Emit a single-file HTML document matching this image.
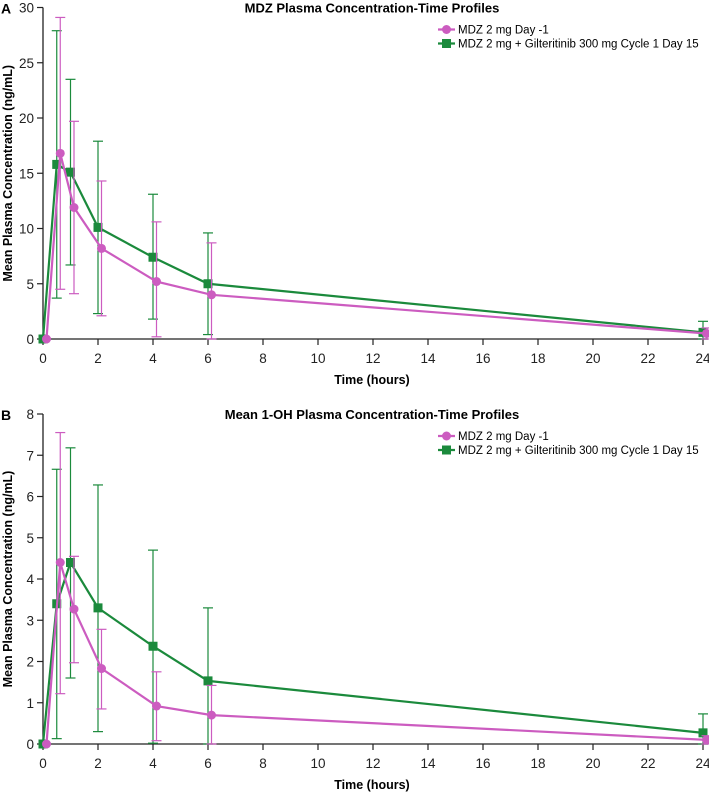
<!DOCTYPE html>
<html><head><meta charset="utf-8"><style>
body{margin:0;background:#fff}
svg{display:block;font-family:"Liberation Sans",Arial,sans-serif}
</style></head><body>
<svg id="chart" width="709" height="795"></svg>
<script>
const times=[0,0.5,1,2,4,6,24];
const aPink=[0,16.8,11.9,8.2,5.2,4.0,0.5];
const aPinkHi=[0,29.1,19.7,14.3,10.6,8.7,1.0];
const aPinkLo=[0,4.5,4.1,2.1,0.2,0,0];
const aGreen=[0,15.8,15.1,10.1,7.4,5.0,0.6];
const aGreenHi=[0,27.9,23.5,17.9,13.1,9.6,1.6];
const aGreenLo=[0,3.7,6.7,2.3,1.8,0.4,0];
const bPink=[0,4.4,3.27,1.83,0.92,0.7,0.1];
const bPinkHi=[0,7.55,4.55,2.78,1.75,1.42,0.2];
const bPinkLo=[0,1.22,1.97,0.85,0.08,0,0];
const bGreen=[0,3.4,4.4,3.3,2.37,1.53,0.27];
const bGreenHi=[0,6.66,7.18,6.28,4.7,3.3,0.73];
const bGreenLo=[0,0.13,1.6,0.3,0.02,0,0];
const xTicks=[0,2,4,6,8,10,12,14,16,18,20,22,24];
const aYTicks=[0,5,10,15,20,25,30];
const bYTicks=[0,1,2,3,4,5,6,7,8];
const PINK="#cc5cc0",GREEN="#1b8a3c";
const svg=document.getElementById('chart');
const NS="http://www.w3.org/2000/svg";
function mk(tag,attrs,parent,text){const e=document.createElementNS(NS,tag);for(const k in attrs)e.setAttribute(k,attrs[k]);if(text!==undefined)e.textContent=text;(parent||svg).appendChild(e);return e;}
function panel(p){
  const g=mk('g',{});
  
  
  const x=t=>43+t*27.5;
  const y=v=>p.y0-(v/p.ymax)*(p.y0-p.yTop);
  const ax=mk('g',{},g);
  
  
  mk('line',{x1:43,y1:p.y0,x2:708,y2:p.y0,stroke:'#222','stroke-width':1.3},ax);
  mk('line',{x1:43,y1:p.yTop,x2:43,y2:p.y0,stroke:'#222','stroke-width':1.3},ax);
  xTicks.forEach(t=>{mk('line',{x1:x(t),y1:p.y0,x2:x(t),y2:p.y0+6,stroke:'#222','stroke-width':1.2},ax);
    const l=mk('text',{x:x(t),y:p.y0+24,'text-anchor':'middle','font-size':13.5,fill:'#222'},ax,t);
    });
  p.ticks.forEach(v=>{mk('line',{x1:37,y1:y(v),x2:43,y2:y(v),stroke:'#222','stroke-width':1.2},ax);
    const l=mk('text',{x:34,y:y(v)+5,'text-anchor':'end','font-size':13.5,fill:'#222'},ax,v);
    });
  const xt=mk('text',{x:372,y:p.y0+45,'text-anchor':'middle','font-size':12.5,'font-weight':'bold'},g,'Time (hours)');
  
  const cy=(p.y0+p.yTop)/2;
  const yt=mk('text',{x:12,y:cy,transform:`rotate(-90 12 ${cy})`,'text-anchor':'middle','font-size':12.5,'font-weight':'bold'},g,'Mean Plasma Concentration (ng/mL)');
  
  const tt=mk('text',{x:372,y:p.yTop+5,'text-anchor':'middle','font-size':13,'font-weight':'bold'},g,p.title);
  
  const lt=mk('text',{x:1,y:p.yTop+6,'font-size':14,'font-weight':'bold'},g,p.letter);
  
  const series=[{v:p.g,hi:p.gh,lo:p.gl,c:GREEN,off:0,sq:true,n:'series-gilteritinib'},{v:p.p,hi:p.ph,lo:p.pl,c:PINK,off:3.5,sq:false,n:'series-day-minus-1'}];
  series.forEach(s=>{
    const sg=mk('g',{},g);
    
    times.forEach((t,i)=>{const xx=x(t)+s.off;if(s.hi[i]>s.v[i]||s.lo[i]<s.v[i]){
      mk('line',{x1:xx,y1:y(s.hi[i]),x2:xx,y2:y(s.lo[i]),stroke:s.c,'stroke-width':1.2},sg);
      mk('line',{x1:xx-5,y1:y(s.hi[i]),x2:xx+5,y2:y(s.hi[i]),stroke:s.c,'stroke-width':1.2},sg);
      mk('line',{x1:xx-5,y1:y(s.lo[i]),x2:xx+5,y2:y(s.lo[i]),stroke:s.c,'stroke-width':1.2},sg);}});
    mk('polyline',{points:times.map((t,i)=>`${x(t)+s.off},${y(s.v[i])}`).join(' '),fill:'none',stroke:s.c,'stroke-width':2.2},sg);
    times.forEach((t,i)=>{const xx=x(t)+s.off,yy=y(s.v[i]);let m;
      if(s.sq)m=mk('rect',{x:xx-4.5,y:yy-4.5,width:9,height:9,fill:s.c},sg);
      else m=mk('circle',{cx:xx,cy:yy,r:4.5,fill:s.c},sg);
      });
  });
  const lg=mk('g',{},g);
  
  const ly=p.yTop+22;
  mk('line',{x1:438,y1:ly,x2:455,y2:ly,stroke:PINK,'stroke-width':2.2},lg);
  mk('circle',{cx:446.5,cy:ly,r:4.5,fill:PINK},lg);
  const e1=mk('text',{x:458,y:ly+4,'font-size':11.5},lg,'MDZ 2 mg Day -1');
  
  mk('line',{x1:438,y1:ly+14,x2:455,y2:ly+14,stroke:GREEN,'stroke-width':2.2},lg);
  mk('rect',{x:442,y:ly+9.5,width:9,height:9,fill:GREEN},lg);
  const e2=mk('text',{x:458,y:ly+18,'font-size':11.5},lg,'MDZ 2 mg + Gilteritinib 300 mg Cycle 1 Day 15');
  
}
panel({name:'panel-a-mdz',letter:'A',title:'MDZ Plasma Concentration-Time Profiles',y0:339,yTop:7.5,ymax:30,ticks:aYTicks,p:aPink,ph:aPinkHi,pl:aPinkLo,g:aGreen,gh:aGreenHi,gl:aGreenLo});
panel({name:'panel-b-1oh',letter:'B',title:'Mean 1-OH Plasma Concentration-Time Profiles',y0:744,yTop:414,ymax:8,ticks:bYTicks,p:bPink,ph:bPinkHi,pl:bPinkLo,g:bGreen,gh:bGreenHi,gl:bGreenLo});
</script>
</body></html>
